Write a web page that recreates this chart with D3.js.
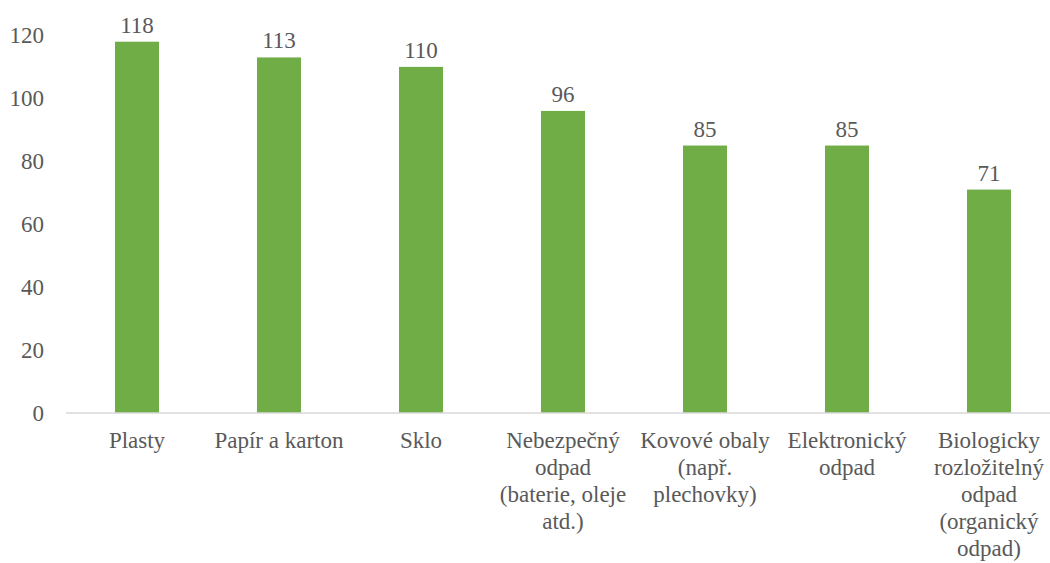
<!DOCTYPE html>
<html>
<head>
<meta charset="utf-8">
<script src="https://cdn.jsdelivr.net/npm/d3@7"></script>
<style>
  html, body { margin: 0; padding: 0; background: #fff; }
  svg { display: block; }
</style>
</head>
<body>
<svg id="chart" width="1050" height="563" font-family="Liberation Serif"></svg>
<script>
const categories = [
  "Plasty",
  "Papír a karton",
  "Sklo",
  "Nebezpečný odpad (baterie, oleje atd.)",
  "Kovové obaly (např. plechovky)",
  "Elektronický odpad",
  "Biologicky rozložitelný odpad (organický odpad)"
];
const categoryLines = [
  ["Plasty"],
  ["Papír a karton"],
  ["Sklo"],
  ["Nebezpečný", "odpad", "(baterie, oleje", "atd.)"],
  ["Kovové obaly", "(např.", "plechovky)"],
  ["Elektronický", "odpad"],
  ["Biologicky", "rozložitelný", "odpad", "(organický", "odpad)"]
];
const values = [118, 113, 110, 96, 85, 85, 71];
const yTicks = [0, 20, 40, 60, 80, 100, 120];

const FONT = "Liberation Serif";
const svg = d3.select("#chart");
const plotLeft = 66, plotTop = 35.4, y0 = 413;
const fs = 23;

const x = d3.scaleBand()
  .domain(categories)
  .range([plotLeft, plotLeft + 7 * 142])
  .paddingInner(0.69)
  .paddingOuter(0.345);

const y = d3.scaleLinear().domain([0, 120]).range([y0, plotTop]);

// y axis labels
const yAxis = d3.axisLeft(y).tickValues(yTicks).tickSize(0).tickPadding(0);
const gy = svg.append("g").attr("transform", "translate(44,0)").call(yAxis);
gy.attr("font-family", FONT).attr("font-size", fs);
gy.select(".domain").remove();
gy.selectAll("text")
  .attr("font-family", FONT)
  .attr("font-size", fs)
  .attr("fill", "#595959")
  .attr("dy", "0.32em");

// bars
svg.append("g").selectAll("rect")
  .data(values)
  .join("rect")
  .attr("x", (d, i) => x(categories[i]))
  .attr("width", x.bandwidth())
  .attr("y", d => y(d))
  .attr("height", d => y0 - y(d))
  .attr("fill", "#70AD47");

// x axis line
const xAxis = d3.axisBottom(x).tickSize(0).tickFormat("");
const gx = svg.append("g").attr("transform", `translate(0,${y0})`).call(xAxis);
gx.select(".domain").attr("stroke", "#d9d9d9").attr("stroke-width", 1.5)
  .attr("d", `M${plotLeft},0H1050`);

// category labels
const lab = svg.append("g");
categories.forEach((c, i) => {
  const cx = x(c) + x.bandwidth() / 2;
  const t = lab.append("text")
    .attr("x", cx)
    .attr("y", 448)
    .attr("text-anchor", "middle")
    .attr("fill", "#595959")
    .attr("font-family", FONT)
    .attr("font-size", fs);
  categoryLines[i].forEach((ln, j) => {
    t.append("tspan")
      .attr("x", cx)
      .attr("y", 448 + j * 27)
      .text(ln);
  });
});

// value labels
svg.append("g").selectAll("text")
  .data(values)
  .join("text")
  .attr("x", (d, i) => x(categories[i]) + x.bandwidth() / 2)
  .attr("y", d => y(d) - 9)
  .attr("text-anchor", "middle")
  .attr("fill", "#595959")
  .attr("font-family", FONT)
  .attr("font-size", fs)
  .text(d => d);
</script>
</body>
</html>
